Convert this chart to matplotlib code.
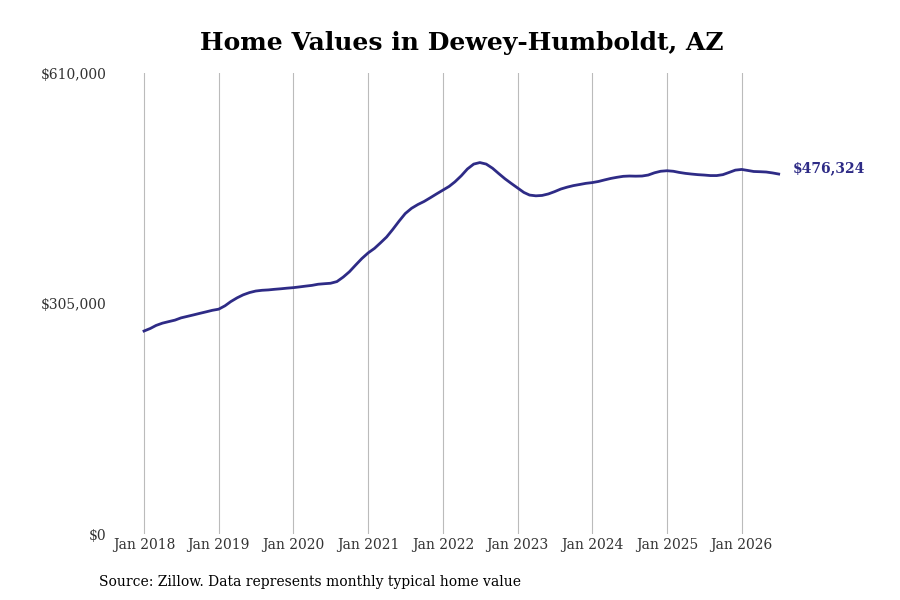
import matplotlib
matplotlib.use("Agg")
import matplotlib.pyplot as plt
import matplotlib.dates as mdates
import pandas as pd

# monthly typical home value, Jan 2018 - Jul 2026
values = [
    268600, 272000, 276000, 279000, 281000, 283000, 286000, 288000, 290000, 292000, 294000, 296000,
    297500, 302000, 307500, 312500, 316500, 319500, 321500, 322500, 323000, 323800, 324500, 325300,
    326000, 327000, 328000, 329000, 330500, 331200, 331800, 334000, 340000, 347000, 356000, 364500,
    372000, 378000, 385000, 393000, 403000, 414000, 424000, 431000, 436000, 440000, 445000, 450000,
    455000, 460000, 466000, 474000, 483000, 489500, 491500, 489500, 484000, 477000, 470000, 464000,
    458000, 452000, 448500, 447500, 448000, 450000, 453000, 456500, 459000, 461000, 462500, 464000,
    465000, 466500, 468500, 470500, 472000, 473300, 473700, 473500, 473700, 475000, 478000, 480000,
    480700, 480000, 478500, 477200, 476300, 475500, 475000, 474300, 474300, 475500, 478500, 481500,
    482400, 481000, 479700, 479400, 479000, 477800, 476324,
]
dates = pd.date_range("2018-01-01", periods=len(values), freq="MS")

y_ticks = [0, 305000, 610000]
y_labels = ["$0", "$305,000", "$610,000"]
tick_years = list(range(2018, 2027))

title = "Home Values in Dewey-Humboldt, AZ"
source = "Source: Zillow. Data represents monthly typical home value"
line_color = "#2e2b86"

plt.rcParams["font.family"] = ["DejaVu Serif"]

fig = plt.figure(figsize=(9, 6), dpi=100)
ax = fig.add_axes([0.1323, 0.11, 0.747, 0.7683])

ax.plot(dates, values, color=line_color, linewidth=2)

ax.set_ylim(0, 610000)
ax.set_yticks(y_ticks)
ax.set_yticklabels(y_labels)

ax.set_xlim(pd.Timestamp("2017-09-01"), pd.Timestamp("2026-09-01"))
ax.set_xticks([pd.Timestamp(f"{y}-01-01") for y in tick_years])
ax.xaxis.set_major_formatter(mdates.DateFormatter("%b %Y"))

ax.grid(axis="x", color="#bbbbbb", linewidth=0.8)
ax.grid(axis="y", visible=False)
for s in ax.spines.values():
    s.set_visible(False)
ax.tick_params(axis="both", length=0, labelsize=10, colors="#333333")
ax.tick_params(axis="y", pad=9)
ax.tick_params(axis="x", pad=3)

ax.annotate(f"${values[-1]:,}", xy=(dates[-1], values[-1]), xytext=(10, 4),
            textcoords="offset points", va="center", ha="left",
            fontsize=10, fontweight="bold", color=line_color)

fig.text(0.513, 0.928, title, ha="center", va="center", fontsize=18, fontweight="bold")
fig.text(0.11, 0.03, source, ha="left", va="center", fontsize=10)

fig.savefig("out.png", dpi=100)
